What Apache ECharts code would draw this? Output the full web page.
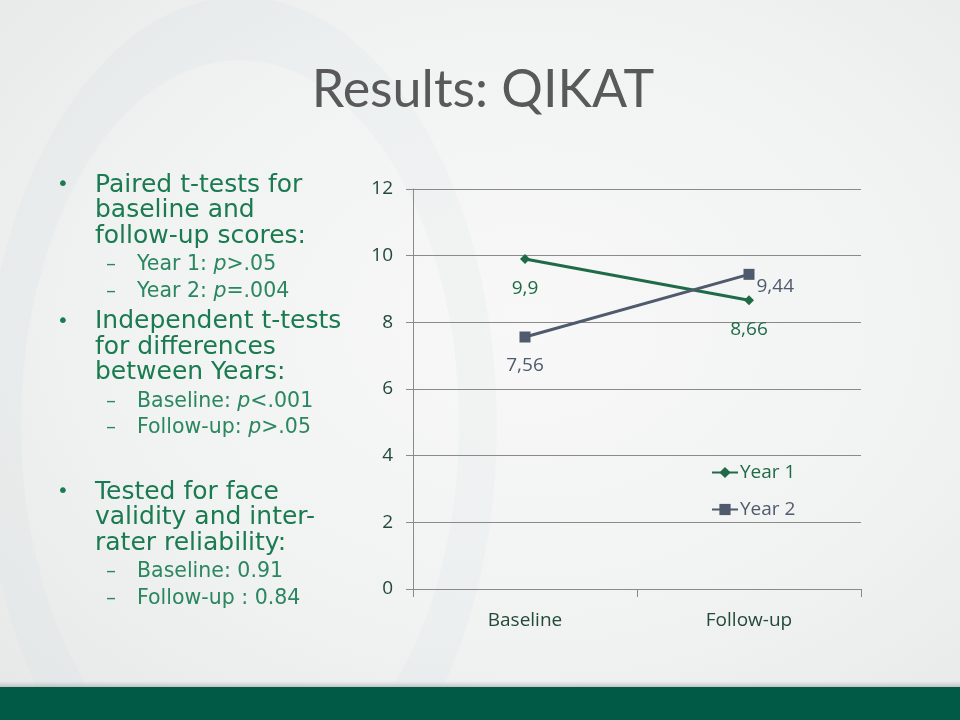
<!DOCTYPE html>
<html><head><meta charset="utf-8">
<script src="https://cdn.jsdelivr.net/npm/echarts@6/dist/echarts.min.js"></script>
<style>
html,body{margin:0;padding:0;}
body{width:960px;height:720px;overflow:hidden;
background: radial-gradient(ellipse at 55% 45%, #f8f8f8 0%, #f1f2f2 55%, #e6e7e7 100%);}
#c{width:960px;height:720px;}
</style>
</head><body><div id="c"></div>
<script>
const categories = ['Baseline', 'Follow-up'];
const year1 = [9.9, 8.66];
const year2 = [7.56, 9.44];
const seriesNames = ['Year 1', 'Year 2'];
const yMin = 0, yMax = 12, yStep = 2;
const titleText = 'Results: QIKAT';
const bullets = [
  { lines: ['Paired t-tests for', 'baseline and', 'follow-up scores:'],
    subs: [['Year 1: ', 'p', '>.05'], ['Year 2: ', 'p', '=.004']] },
  { lines: ['Independent t-tests', 'for differences', 'between Years:'],
    subs: [['Baseline: ', 'p', '<.001'], ['Follow-up: ', 'p', '>.05']] },
  { lines: ['Tested for face', 'validity and inter-', 'rater reliability:'],
    subs: [['Baseline: 0.91'], ['Follow-up : 0.84']] }
];

const GREEN = '#1f6b47';
const SLATE = '#4f5a6d';
const TXT_GREEN = '#1a7a50';
const SUB_GREEN = '#2a8760';
const AXIS_TXT = '#234a38';
const BODY_FONT = 'DejaVu Sans';

const chart = echarts.init(document.getElementById('c'), null, {renderer: 'canvas'});

const g = [];
// faint Q ring in the background
g.push({type: 'ring', x: 240, y: 425, scaleX: 0.6, scaleY: 1,
  shape: {cx: 0, cy: 0, r: 428, r0: 365},
  style: {fill: 'rgba(195,220,216,0.10)'}, silent: true, z: -10});
// bottom bar
g.push({type: 'rect', shape: {x: 0, y: 681, width: 960, height: 6},
  style: {fill: new echarts.graphic.LinearGradient(0,0,0,1,[{offset:0,color:'rgba(200,200,200,0)'},{offset:1,color:'rgba(170,175,175,0.7)'}])}, silent: true});
g.push({type: 'rect', shape: {x: 0, y: 687, width: 960, height: 33},
  style: {fill: '#005a46'}, silent: true});
// title
g.push({type: 'text', x: 483, y: 90, style: {text: titleText, fill: '#595959',
  font: '52px Lato', textAlign: 'center', textVerticalAlign: 'middle'}});

let y = 185;
bullets.forEach((b, bi) => {
  if (bi === 2) y += 34;
  g.push({type: 'text', x: 63, y: y, style: {text: '•', fill: TXT_GREEN, font: '20px ' + BODY_FONT,
    textAlign: 'center', textVerticalAlign: 'middle'}});
  b.lines.forEach((ln, li) => {
    g.push({type: 'text', x: 95, y: y, style: {text: ln, fill: TXT_GREEN, font: '25px ' + BODY_FONT,
      textVerticalAlign: 'middle'}});
    if (li < b.lines.length - 1) y += 25.5;
  });
  y += 29;
  b.subs.forEach((s, si) => {
    g.push({type: 'text', x: 106, y: y, style: {text: '–', fill: SUB_GREEN, font: '20px ' + BODY_FONT,
      textVerticalAlign: 'middle'}});
    let txt;
    if (s.length === 3) txt = '{a|' + s[0] + '}{b|' + s[1] + '}{a|' + s[2] + '}';
    else txt = '{a|' + s[0] + '}';
    g.push({type: 'text', x: 137, y: y, style: {text: txt, textVerticalAlign: 'middle',
      rich: {a: {fontSize: 20.5, fontFamily: BODY_FONT, color: SUB_GREEN, fill: SUB_GREEN},
             b: {fontSize: 20.5, fontFamily: BODY_FONT, fontStyle: 'italic', color: SUB_GREEN, fill: SUB_GREEN}}}});
    if (si < b.subs.length - 1) y += 26.5;
  });
  y += 30;
});

const fmt = p => String(p.value).replace('.', ',');

chart.setOption({
  backgroundColor: 'transparent',
  animation: false,
  graphic: g,
  grid: {left: 413, right: 99, top: 189, bottom: 131, containLabel: false},
  legend: {
    orient: 'vertical', left: 711, top: 463, padding: 0, itemWidth: 26, itemHeight: 14, itemGap: 18,
    data: [
      {name: seriesNames[0], textStyle: {color: GREEN}},
      {name: seriesNames[1], textStyle: {color: SLATE}}
    ],
    textStyle: {fontSize: 19, fontFamily: 'Open Sans', padding: [0, 0, 0, -3]}
  },
  xAxis: {
    type: 'category', data: categories, boundaryGap: true,
    axisLine: {lineStyle: {color: '#8a8a8a', width: 1}},
    axisTick: {show: true, length: 8, lineStyle: {color: '#8a8a8a'}},
    axisLabel: {color: AXIS_TXT, fontSize: 19, fontFamily: 'Open Sans', margin: 22}
  },
  yAxis: {
    type: 'value', min: yMin, max: yMax, interval: yStep,
    axisLine: {show: true, lineStyle: {color: '#8a8a8a', width: 1}},
    axisTick: {show: true, length: 7, lineStyle: {color: '#8a8a8a'}},
    splitLine: {show: true, lineStyle: {color: '#8a8a8a', width: 1}},
    axisLabel: {color: AXIS_TXT, fontSize: 19, fontFamily: 'Open Sans', margin: 20}
  },
  series: [
    {name: seriesNames[0], type: 'line', data: year1, symbol: 'diamond', symbolSize: 10,
      lineStyle: {color: GREEN, width: 3}, itemStyle: {color: GREEN},
      label: {show: true, position: 'bottom', distance: 15, formatter: fmt, color: GREEN,
        fontSize: 19, fontFamily: 'Open Sans'}},
    {name: seriesNames[1], type: 'line', symbol: 'rect', symbolSize: 11,
      data: [
        {value: year2[0]},
        {value: year2[1], label: {position: 'right', distance: 2, offset: [0, 12]}}
      ],
      lineStyle: {color: SLATE, width: 3}, itemStyle: {color: SLATE},
      label: {show: true, position: 'bottom', distance: 14, formatter: fmt, color: SLATE,
        fontSize: 19, fontFamily: 'Open Sans'}}
  ]
});
</script>
</body></html>
